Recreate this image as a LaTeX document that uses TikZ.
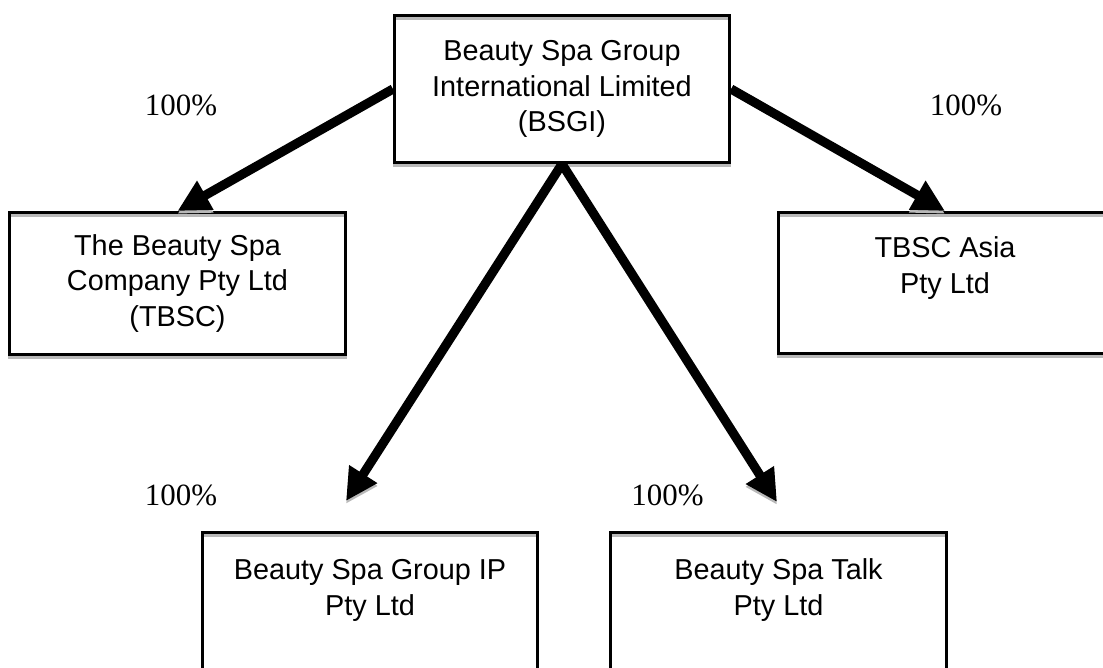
\documentclass[tikz,border=0pt]{standalone}
\usepackage{fontspec}
\setsansfont{Liberation Sans}
\newfontfamily\pctfamily{Liberation Serif}
\usetikzlibrary{arrows.meta}
\definecolor{shadegray}{RGB}{185,185,185}

\begin{document}
\begin{tikzpicture}[x=0.025cm, y=-0.025cm,
    shade/.style={preaction={draw=shadegray, transform canvas={yshift=-0.07cm}}},
    orgbox/.style={draw, shade, line width=0.075cm, align=center, inner sep=0pt,
        font=\sffamily\fontsize{20.5}{25.5}\selectfont},
    link/.style={shade, line width=0.23cm, -{Triangle[length=0.8cm, width=0.78cm]}},
    pct/.style={font=\pctfamily\fontsize{22}{26}\selectfont}]
    \path[use as bounding box, clip] (0,0) rectangle (1103,668);

    % Riquadri
    \node[orgbox, minimum width=8.375cm, minimum height=3.675cm] (bsgi) at (562,89)
        {Beauty Spa Group\\International Limited\\(BSGI)};
    \node[orgbox, minimum width=8.4cm, minimum height=3.55cm] (tbsc) at (177.5,283.5)
        {The Beauty Spa\\Company Pty Ltd\\(TBSC)};
    \node[orgbox, minimum width=8.325cm, minimum height=3.525cm] (asia) at (945,283)
        {TBSC Asia\\Pty Ltd\\\mbox{}};
    \node[orgbox, minimum width=8.375cm, minimum height=3.625cm] (ip) at (370,605)
        {Beauty Spa Group IP\\Pty Ltd\\\mbox{}};
    \node[orgbox, minimum width=8.4cm, minimum height=3.625cm] (talk) at (778.5,605)
        {Beauty Spa Talk\\Pty Ltd\\\mbox{}};

    % Punte libere
    \coordinate (iptip) at (346,501);
    \coordinate (talktip) at (777,502);

    % Frecce
    \draw[link] (bsgi.west) -- (tbsc.north);
    \draw[link] (bsgi.east) -- (asia.north);
    \draw[link] (bsgi.south) -- (iptip);
    \draw[link] (bsgi.south) -- (talktip);

    % Percentuali
    \node[pct] (pcttbsc) at (181,105) {100\%};
    \node[pct] (pctasia) at (966,105) {100\%};
    \node[pct] (pctip) at (181,495) {100\%};
    \node[pct] (pcttalk) at (667.5,495) {100\%};
\end{tikzpicture}
\end{document}
